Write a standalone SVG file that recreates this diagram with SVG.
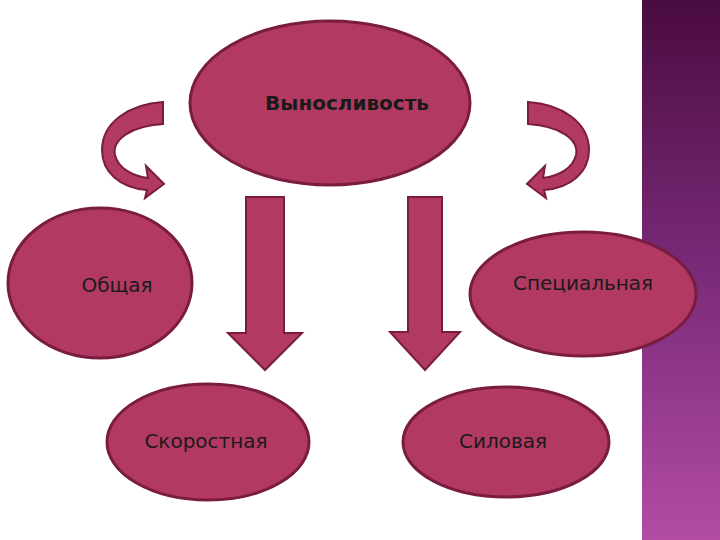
<svg xmlns="http://www.w3.org/2000/svg" width="720" height="540" viewBox="0 0 720 540">
<defs>
<linearGradient id="band" x1="0" y1="0" x2="0" y2="1">
<stop offset="0" stop-color="#4a0c40"/><stop offset="0.5" stop-color="#7a2a78"/><stop offset="1" stop-color="#b24ca4"/>
</linearGradient>
<style>
.n{fill:#b23a62;stroke:#7a1c42;stroke-width:3}
.a{fill:#b23a62;stroke:#7a1c42;stroke-width:2}
.t{font-family:"DejaVu Sans",sans-serif;font-size:20px;fill:#1a1a1a;text-anchor:middle}
</style>
</defs>
<rect width="720" height="540" fill="#fff"/>
<rect x="642" y="0" width="78" height="540" fill="url(#band)"/>
<g id="connectors">
<path class="a" d="M246,197 H284 V333 H302 L265,370 L228,333 H246 Z"/>
<path class="a" d="M408,197 H442 V332 H460 L425,370 L390,332 H408 Z"/>
<path class="a" d="M163,102 V124 C130,126 112,140 115,155 C118,168 132,176 148,178 L146,166 L164,184 L145,198 L147,190 C120,188 102,172 102,150 C102,122 130,104 163,102 Z"/>
<path class="a" d="M528,102 V124 C561,126 579,140 576,155 C573,168 559,176 543,178 L545,166 L527,184 L546,198 L544,190 C571,188 589,172 589,150 C589,122 561,104 528,102 Z"/>
</g>
<g id="top"><ellipse class="n" cx="330" cy="103" rx="140" ry="82"/><text class="t" x="347" y="110" font-weight="bold">Выносливость</text></g>
<g id="general"><ellipse class="n" cx="100" cy="283" rx="92" ry="75"/><text class="t" x="117" y="292">Общая</text></g>
<g id="special"><ellipse class="n" cx="583" cy="294" rx="113" ry="62"/><text class="t" x="583" y="290">Специальная</text></g>
<g id="speed"><ellipse class="n" cx="208" cy="442" rx="101" ry="58"/><text class="t" x="206" y="448">Скоростная</text></g>
<g id="power"><ellipse class="n" cx="506" cy="442" rx="103" ry="55"/><text class="t" x="503" y="448">Силовая</text></g>
</svg>
